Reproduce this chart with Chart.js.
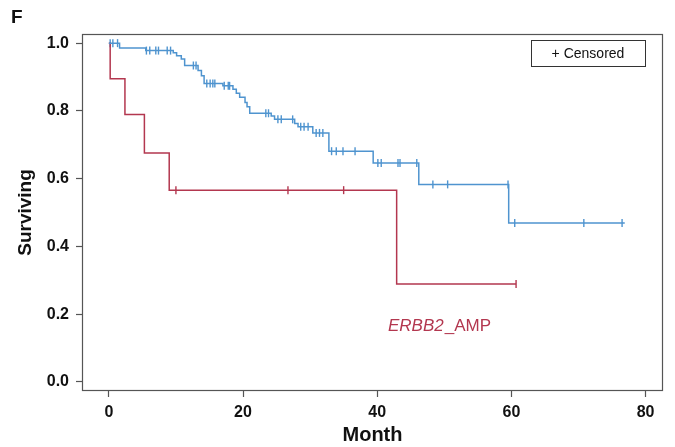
<!DOCTYPE html>
<html>
<head>
    <meta charset="utf-8" />
    <style>
        body { margin: 0; background: #fff; }
        #wrap { width: 675px; height: 447px; position: relative; }
        #letter { position: absolute; left: 11px; top: 6px; font: bold 19px "Liberation Sans", Arial, sans-serif; color: #111; }
    </style>
</head>
<body>
    <div id="wrap">
        <canvas id="chart" width="675" height="447"></canvas>
        <div id="letter">F</div>
    </div>

    <script src="https://cdn.jsdelivr.net/npm/chart.js"></script>
    <script type="text/javascript">

        // eventos (mes, supervivencia despues del evento)
        var blueTimes = [0, 1.6, 5.5, 9.6, 10.1, 10.8, 11.3, 13.3, 13.8, 14.2, 17.0, 18.5, 19.0, 19.5, 20.3, 20.6, 21.0, 24.2, 24.7, 27.7, 28.2, 30.4, 32.8, 39.4, 46.2, 59.6, 76.9];
        var blueSurv = [1.0, 0.986, 0.978, 0.972, 0.963, 0.953, 0.934, 0.919, 0.904, 0.881, 0.874, 0.864, 0.852, 0.840, 0.825, 0.812, 0.793, 0.785, 0.775, 0.763, 0.753, 0.735, 0.681, 0.646, 0.583, 0.469, 0.469];
        var blueCensored = [0.2, 0.6, 1.3, 5.6, 6.1, 7.0, 7.4, 8.7, 9.2, 12.6, 13.0, 14.6, 15.1, 15.5, 15.8, 17.2, 17.8, 18.0, 23.4, 23.8, 25.2, 25.7, 27.4, 28.6, 29.1, 29.7, 30.9, 31.4, 31.9, 33.2, 33.9, 34.9, 36.7, 40.1, 40.6, 43.1, 43.4, 45.9, 48.3, 50.5, 59.5, 60.5, 70.8, 76.5];

        var redTimes = [0, 0.2, 2.4, 5.3, 9.0, 42.9, 60.7];
        var redSurv = [1.0, 0.895, 0.789, 0.676, 0.566, 0.289, 0.289];
        var redCensored = [10.0, 26.7, 35.0, 60.7];

        var xTicks = [0, 20, 40, 60, 80];
        var yTicks = [0.0, 0.2, 0.4, 0.6, 0.8, 1.0];

        var blueColor = '#4f94cf';
        var redColor = '#b3374f';

        function puntos(times, surv) {
            return times.map(function (t, i) { return { x: t, y: surv[i] }; });
        }

        // valor de la curva en el tiempo t (para las marcas de censura)
        function valorEn(times, surv, t) {
            var v = surv[0];
            for (var i = 0; i < times.length; i++) {
                if (times[i] <= t) v = surv[i];
            }
            return v;
        }

        function censuras(lista, times, surv) {
            return lista.map(function (t) { return { x: t, y: valorEn(times, surv, t) }; });
        }

        var fuente = '"Liberation Sans", Arial, sans-serif';

        var extras = {
            id: 'extras',
            afterDraw: function (chart) {
                var ctx = chart.ctx;
                var a = chart.chartArea;
                ctx.save();
                // marco
                ctx.strokeStyle = '#555';
                ctx.lineWidth = 1.2;
                ctx.strokeRect(a.left + 0.5, a.top + 0.5, a.right - a.left - 1, a.bottom - a.top - 1);

                // cuadro de leyenda
                var bw = 114, bh = 26;
                var bx = a.right - 18 - bw, by = a.top + 6;
                ctx.lineWidth = 1;
                ctx.strokeStyle = '#333';
                ctx.strokeRect(bx + 0.5, by + 0.5, bw, bh);
                ctx.fillStyle = '#111';
                ctx.font = '14px ' + fuente;
                ctx.textAlign = 'center';
                ctx.textBaseline = 'middle';
                ctx.fillText('+ Censored', bx + bw / 2, by + bh / 2 + 1);

                // etiqueta del grupo
                var x = chart.scales.x.getPixelForValue(41.6);
                var y = chart.scales.y.getPixelForValue(0.165);
                ctx.fillStyle = redColor;
                ctx.textAlign = 'left';
                ctx.font = 'italic 17px ' + fuente;
                ctx.fillText('ERBB2', x, y);
                var w = ctx.measureText('ERBB2').width;
                ctx.font = '17px ' + fuente;
                ctx.fillText('_AMP', x + w + 1, y);
                ctx.restore();
            }
        };

        var marca = {
            pointStyle: 'line',
            rotation: 90,
            pointRadius: 4,
            pointBorderWidth: 1.4,
            showLine: false
        };

        new Chart(document.getElementById('chart'), {
            type: 'line',
            data: {
                datasets: [
                    {
                        data: puntos(blueTimes, blueSurv),
                        borderColor: blueColor,
                        borderWidth: 1.5,
                        stepped: true,
                        pointRadius: 0,
                        fill: false
                    },
                    {
                        data: puntos(redTimes, redSurv),
                        borderColor: redColor,
                        borderWidth: 1.5,
                        stepped: true,
                        pointRadius: 0,
                        fill: false
                    },
                    Object.assign({
                        type: 'scatter',
                        data: censuras(blueCensored, blueTimes, blueSurv),
                        borderColor: blueColor,
                        backgroundColor: blueColor
                    }, marca),
                    Object.assign({
                        type: 'scatter',
                        data: censuras(redCensored, redTimes, redSurv),
                        borderColor: redColor,
                        backgroundColor: redColor
                    }, marca)
                ]
            },
            options: {
                responsive: false,
                animation: false,
                layout: { padding: { top: 34, right: 12, left: 0, bottom: 0 } },
                plugins: {
                    legend: { display: false },
                    tooltip: { enabled: false }
                },
                scales: {
                    x: {
                        type: 'linear',
                        min: -4,
                        max: 82.6,
                        afterBuildTicks: function (axis) {
                            axis.ticks = xTicks.map(function (v) { return { value: v }; });
                        },
                        afterFit: function (axis) { axis.height = 56; },
                        grid: { drawOnChartArea: false, tickLength: 6, color: '#555', tickWidth: 1.2 },
                        border: { display: false },
                        ticks: {
                            color: '#111',
                            padding: 6,
                            maxRotation: 0,
                            font: { family: fuente, size: 16, weight: 'bold' }
                        },
                        title: {
                            display: true,
                            text: 'Month',
                            color: '#111',
                            padding: { top: -8, bottom: 0 },
                            font: { family: fuente, size: 20, weight: 'bold' }
                        }
                    },
                    y: {
                        type: 'linear',
                        min: -0.027,
                        max: 1.027,
                        afterBuildTicks: function (axis) {
                            axis.ticks = yTicks.map(function (v) { return { value: v }; });
                        },
                        afterFit: function (axis) { axis.width = 82; },
                        grid: { drawOnChartArea: false, tickLength: 6, color: '#555', tickWidth: 1.2 },
                        border: { display: false },
                        ticks: {
                            color: '#111',
                            padding: 7,
                            font: { family: fuente, size: 16, weight: 'bold' },
                            callback: function (v) { return v.toFixed(1); }
                        },
                        title: {
                            display: true,
                            text: 'Surviving',
                            color: '#111',
                            padding: { top: 14, bottom: 0 },
                            font: { family: fuente, size: 19, weight: 'bold' }
                        }
                    }
                }
            },
            plugins: [extras]
        });

    </script>
</body>
</html>
